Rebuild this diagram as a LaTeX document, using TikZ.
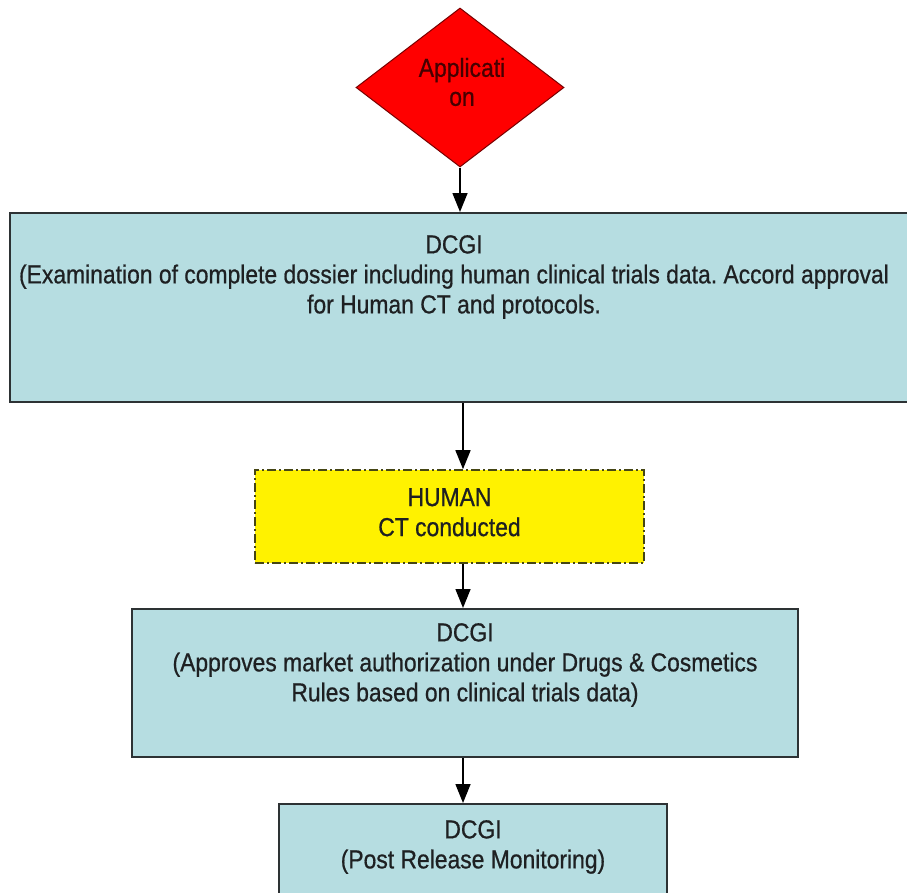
\documentclass[tikz,border=0pt]{standalone}
\usepackage{fontspec}
\setmainfont{Liberation Sans}[FakeStretch=0.88,FakeBold=0.7]
\usetikzlibrary{shapes.geometric,arrows.meta}
\definecolor{boxblue}{RGB}{182,221,225}
\definecolor{boxline}{RGB}{45,50,52}
\definecolor{ylwline}{RGB}{70,70,20}
\definecolor{darkred}{RGB}{120,0,0}
\definecolor{apptext}{RGB}{70,0,0}
\definecolor{txtgray}{RGB}{30,32,34}
\tikzset{
  bluebox/.style={draw=boxline, line width=2pt, fill=boxblue, rectangle, inner sep=0pt},
  ylwbox/.style={draw=ylwline, line width=1.6pt, fill=yellow, rectangle, inner sep=0pt, dash pattern=on 9pt off 3pt on 2pt off 3pt},
  boxtext/.style={anchor=north, inner sep=0pt, align=center, text=txtgray, font=\fontsize{26}{30}\selectfont},
  arr/.style={draw=black, line width=1.5pt, -{Triangle[width=15pt,length=19pt]}},
}
\begin{document}
\frenchspacing
\begin{tikzpicture}[x=1pt,y=-1pt]
\useasboundingbox (0,0) rectangle (907,892);
\fill[white] (0,0) rectangle (907,892);
\coordinate (ax) at (463,0);
% diamond
\node[diamond, draw=darkred, line width=1pt, fill=red, aspect=1.31, minimum width=208pt, minimum height=159pt, inner sep=0pt] (app) at (460,87.5) {};
\node[align=center, inner sep=0pt, text=apptext, font=\fontsize{26}{29}\selectfont] (appt) at (462,82) {Applicati\\on};
% box 1
\node[bluebox, minimum width=902pt, minimum height=189pt] (b1) at (461,307.5) {};
\node[boxtext] (t1) at (454,235) {DCGI\\(Examination of complete dossier including human clinical trials data. Accord approval\\for Human CT and protocols.};
% yellow
\node[ylwbox, minimum width=389pt, minimum height=93pt] (hum) at (449.5,516.5) {};
\node[boxtext] (t2) at (449.5,488) {HUMAN\\CT conducted};
% box 3
\node[bluebox, minimum width=666pt, minimum height=148pt] (b3) at (465,683) {};
\node[boxtext] (t3) at (465,623) {DCGI\\(Approves market authorization under Drugs \& Cosmetics\\Rules based on clinical trials data)};
% box 4
\node[bluebox, minimum width=388pt, minimum height=160pt] (b4) at (473,884) {};
\node[boxtext] (t4) at (473,820) {DCGI\\(Post Release Monitoring)};
% arrows
\draw[arr] (app.south) -- (app.south |- b1.north);
\draw[arr] (b1.south -| ax) -- (hum.north -| ax);
\draw[arr] (hum.south -| ax) -- (b3.north -| ax);
\draw[arr] (b3.south -| ax) -- (b4.north -| ax);
\end{tikzpicture}
\end{document}
